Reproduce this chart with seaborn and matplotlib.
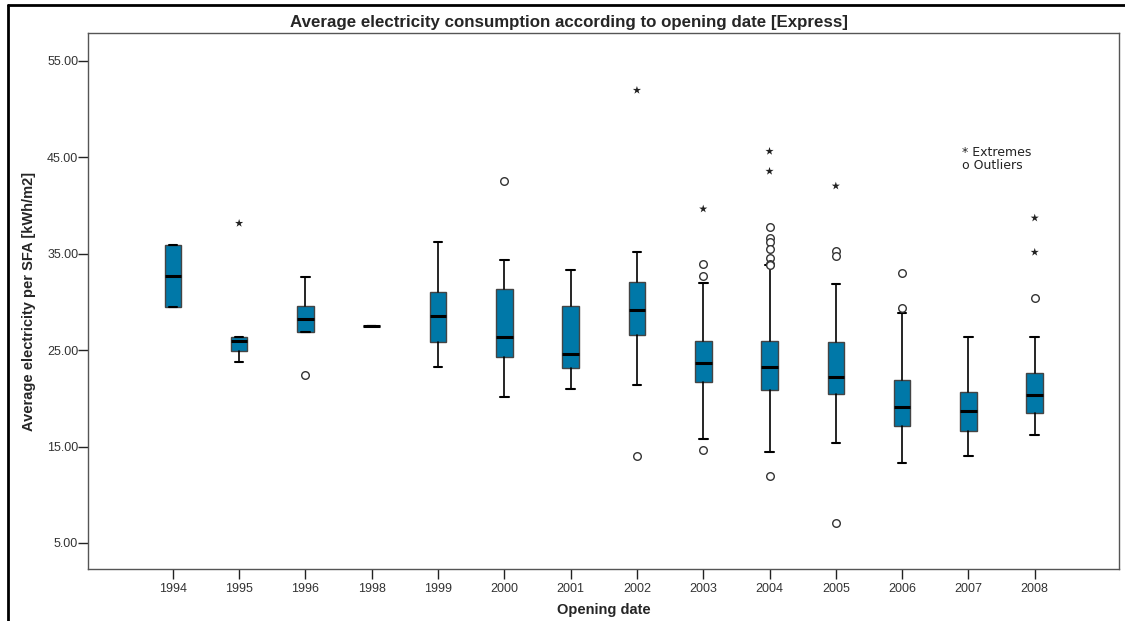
import matplotlib.pyplot as plt
import seaborn as sns
import pandas as pd
from matplotlib.lines import Line2D

# Box statistics
years = ["1994", "1995", "1996", "1998", "1999", "2000", "2001",
         "2002", "2003", "2004", "2005", "2006", "2007", "2008"]
q1 = [29.45, 24.96, 26.89, 27.51, 25.82, 24.29, 23.19,
      26.62, 21.70, 20.84, 20.50, 17.11, 16.59, 18.53]
medians = [32.70, 26.00, 28.20, 27.51, 28.52, 26.37, 24.57,
           29.21, 23.67, 23.26, 22.22, 19.11, 18.69, 20.39]
q3 = [35.95, 26.37, 29.55, 27.51, 31.00, 31.32, 29.55,
      32.07, 25.92, 25.92, 25.85, 21.95, 20.63, 22.60]
whisker_low = [29.45, 23.78, 26.89, 27.51, 23.26, 20.11, 20.94,
               21.43, 15.83, 14.44, 15.34, 13.30, 14.02, 16.20]
whisker_high = [35.95, 26.37, 32.56, 27.51, 36.22, 34.33, 33.29,
                35.19, 32.01, 33.81, 31.84, 28.86, 26.37, 26.37]

# Outliers (o) and extremes (*)
outlier_years = ["1996", "2000", "2002", "2003", "2003", "2003",
                 "2004", "2004", "2004", "2004", "2004", "2004", "2004", "2004",
                 "2005", "2005", "2005", "2006", "2006", "2008"]
outlier_values = [22.43, 42.55, 14.07, 33.91, 32.70, 14.62,
                  37.78, 36.68, 36.22, 35.47, 34.56, 33.98, 33.80, 11.99,
                  35.29, 34.74, 7.07, 33.01, 29.32, 30.46]
extreme_years = ["1995", "2002", "2003", "2004", "2004", "2005", "2008", "2008"]
extreme_values = [38.16, 51.96, 39.65, 45.63, 43.56, 42.03, 38.71, 35.16]

box_color = "#0078A8"

sns.set_style("ticks")
plt.rcParams["font.family"] = ["Liberation Sans", "DejaVu Sans"]

fig = plt.figure(figsize=(11.25, 6.21), dpi=100)
ax = fig.add_axes([0.0782, 0.0833, 0.9164, 0.8636])

stats = []
for i, y in enumerate(years):
    stats.append({"label": y, "q1": q1[i], "med": medians[i], "q3": q3[i],
                  "whislo": whisker_low[i], "whishi": whisker_high[i]})

ax.bxp(stats, positions=range(len(years)), widths=0.25, capwidths=0.13,
       showfliers=False, patch_artist=True,
       boxprops=dict(facecolor=box_color, edgecolor="#444444", linewidth=1),
       medianprops=dict(color="black", linewidth=2.2),
       whiskerprops=dict(color="black", linewidth=1.2),
       capprops=dict(color="black", linewidth=1.5))

pos = {y: i for i, y in enumerate(years)}
out_df = pd.DataFrame({"x": [pos[y] for y in outlier_years], "y": outlier_values})
ext_df = pd.DataFrame({"x": [pos[y] for y in extreme_years], "y": extreme_values})

sns.scatterplot(data=out_df, x="x", y="y", ax=ax, marker="o", s=30,
                facecolor="white", edgecolor="#333333", linewidth=1, zorder=4)
sns.scatterplot(data=ext_df, x="x", y="y", ax=ax, marker="*", s=38,
                color="#222222", edgecolor="none", linewidth=0, zorder=4)

ax.set_xlim(-1.28, 14.27)
ax.set_ylim(2.27, 57.9)
ax.set_xticks(range(len(years)))
ax.set_xticklabels(years)
ax.set_yticks([5, 15, 25, 35, 45, 55])
ax.set_yticklabels(["5.00", "15.00", "25.00", "35.00", "45.00", "55.00"])
ax.tick_params(axis="both", labelsize=9, labelcolor="#333333", color="#222222",
               length=7, width=1)
ax.tick_params(axis="y", pad=0)
ax.tick_params(axis="x", pad=3)

for side in ["left", "right", "top", "bottom"]:
    ax.spines[side].set_visible(True)
    ax.spines[side].set_color("#555555")
    ax.spines[side].set_linewidth(1)

ax.set_xlabel("Opening date", fontsize=10.5, fontweight="bold", labelpad=6)
ax.set_ylabel("Average electricity per SFA [kWh/m2]", fontsize=10.5,
              fontweight="bold", labelpad=8)

fig.text(569 / 1125, 1 - 22 / 621,
         "Average electricity consumption according to opening date [Express]",
         ha="center", va="center", fontsize=12.2, fontweight="bold")

ax.text(0.848, 0.765, "* Extremes\no Outliers", transform=ax.transAxes,
        fontsize=9, family="DejaVu Sans", color="#222222",
        va="center", ha="left", linespacing=1.0)

# outer frame of the SPSS output
fig.add_artist(Line2D([8 / 1125, 8 / 1125], [0, 1 - 5 / 621],
                      color="black", linewidth=2, transform=fig.transFigure))
fig.add_artist(Line2D([8 / 1125, 1], [1 - 5 / 621, 1 - 5 / 621],
                      color="black", linewidth=2, transform=fig.transFigure))

fig.savefig("out.png", dpi=100)
